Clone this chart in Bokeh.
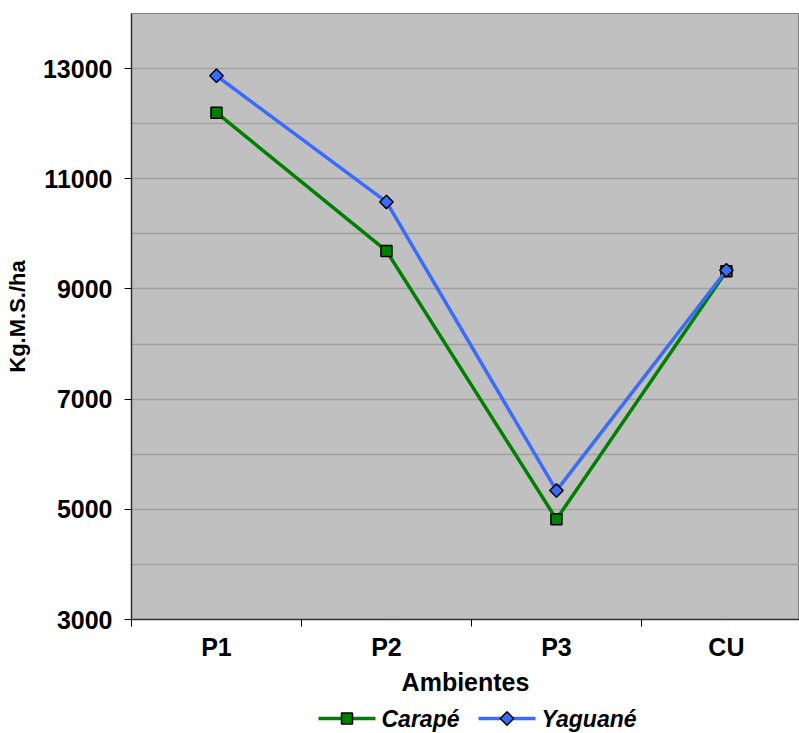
import math
from bokeh.plotting import figure
from bokeh.layouts import column
from bokeh.models import FixedTicker, Range1d
from bokeh.core.properties import value
from bokeh.embed import file_html
from bokeh.resources import INLINE

# Ambientes (categories) and forage dry-matter yield per cultivar
ambientes = ["P1", "P2", "P3", "CU"]
carape = [12200, 9690, 4820, 9320]
yaguane = [12870, 10580, 5340, 9340]
series_names = ["Carapé", "Yaguané"]

y_labels = [3000, 5000, 7000, 9000, 11000, 13000]
y_minor = [4000, 6000, 8000, 10000, 12000, 14000]

x_pos = [i + 0.5 for i in range(len(ambientes))]

FONT = "Liberation Sans"
green = "#008000"
blue = "#3A6BFF"

W = 799
LEG_H = 33
LEFT = 131

p = figure(width=W, height=733 - LEG_H, output_backend="svg", toolbar_location=None,
           x_range=Range1d(0, 3.93), y_range=Range1d(3000, 14000),
           min_border_left=LEFT, min_border_right=0, min_border_top=13,
           min_border_bottom=81)

p.background_fill_color = "#C0C0C0"
p.border_fill_color = "white"
p.outline_line_color = "#808080"
p.outline_line_width = 1

# x axis: labels centred on categories, ticks on category boundaries
p.xaxis.ticker = FixedTicker(ticks=x_pos, minor_ticks=[0, 1, 2, 3])
p.xaxis.major_label_overrides = {x: lab for x, lab in zip(x_pos, ambientes)}
p.xaxis.major_tick_line_color = None
p.xaxis.minor_tick_in = 0
p.xaxis.minor_tick_out = 7
p.xaxis.minor_tick_line_color = "black"
p.xaxis.axis_line_color = "#303030"
p.xaxis.axis_line_width = 1.5
p.xaxis.major_label_text_font = FONT
p.xaxis.major_label_text_font_style = "bold"
p.xaxis.major_label_text_font_size = "25px"
p.xaxis.major_label_text_color = "black"
p.xaxis.major_label_standoff = 6
p.xaxis.axis_label = "Ambientes"
p.xaxis.axis_label_text_font = FONT
p.xaxis.axis_label_text_font_style = "bold"
p.xaxis.axis_label_text_font_size = "25px"
p.xaxis.axis_label_text_color = "black"
p.xaxis.axis_label_standoff = 4
p.xgrid.grid_line_color = None

# y axis
p.yaxis.ticker = FixedTicker(ticks=y_labels, minor_ticks=y_minor)
p.yaxis.major_tick_in = 0
p.yaxis.major_tick_out = 7
p.yaxis.major_tick_line_color = "black"
p.yaxis.minor_tick_line_color = None
p.yaxis.axis_line_color = "#303030"
p.yaxis.axis_line_width = 1.5
p.yaxis.major_label_text_font = FONT
p.yaxis.major_label_text_font_style = "bold"
p.yaxis.major_label_text_font_size = "25px"
p.yaxis.major_label_text_color = "black"
p.yaxis.major_label_standoff = 12
p.yaxis.axis_label = "Kg.M.S./ha"
p.yaxis.axis_label_text_font = FONT
p.yaxis.axis_label_text_font_style = "bold"
p.yaxis.axis_label_text_font_size = "22px"
p.yaxis.axis_label_text_color = "black"
p.yaxis.axis_label_standoff = 10
p.ygrid.grid_line_color = "#A0A0A0"
p.ygrid.grid_line_width = 1.5
p.ygrid.minor_grid_line_color = "#A0A0A0"
p.ygrid.minor_grid_line_width = 1.5

p.line(x_pos, carape, line_color=green, line_width=3.5)
p.scatter(x_pos, carape, marker="square", size=11, fill_color=green,
          line_color="black", line_width=1.5)
p.line(x_pos, yaguane, line_color=blue, line_width=3.5)
p.scatter(x_pos, yaguane, marker="square", size=9.5, angle=math.pi / 4,
          fill_color=blue, line_color="black", line_width=1.5)

# legend strip below the chart; its frame lines up with the chart frame,
# so the x range is expressed in page pixels from LEFT to the right edge
leg = figure(width=W, height=LEG_H, output_backend="svg", toolbar_location=None,
             x_range=Range1d(LEFT, W), y_range=Range1d(0, LEG_H),
             min_border_left=LEFT, min_border_right=0,
             min_border_top=0, min_border_bottom=0)
leg.axis.visible = False
leg.grid.visible = False
leg.outline_line_color = None
leg.background_fill_color = "white"

entry_x = [318, 478]      # left end of each legend sample line
sample_len = 57
ly = 15
for x0, col, name, is_diamond in zip(entry_x, [green, blue], series_names, [False, True]):
    leg.line([x0, x0 + sample_len], [ly, ly], line_color=col, line_width=3.5)
    if is_diamond:
        leg.scatter([x0 + sample_len / 2], [ly], marker="square", size=9.5,
                    angle=math.pi / 4, fill_color=col, line_color="black", line_width=1.5)
    else:
        leg.scatter([x0 + sample_len / 2], [ly], marker="square", size=11,
                    fill_color=col, line_color="black", line_width=1.5)
    leg.text([x0 + sample_len + 6], [ly], text=[name], text_font=value(FONT),
             text_font_style="bold italic", text_font_size="23px",
             text_color="black", text_baseline="middle", text_align="left")

layout = column(p, leg, spacing=0)
open("out.html", "w").write(file_html(layout, INLINE))
